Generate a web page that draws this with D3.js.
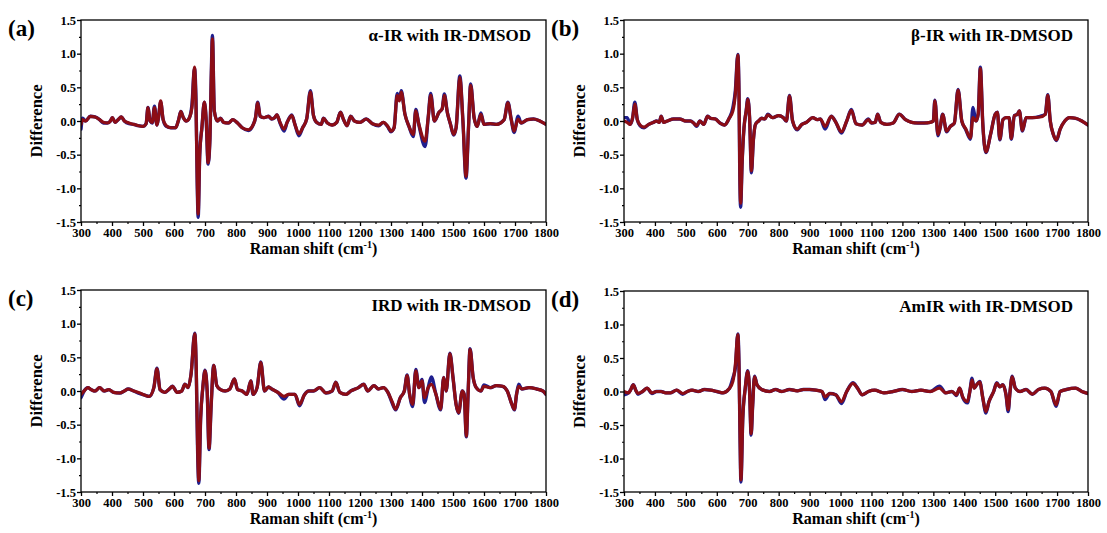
<!DOCTYPE html>
<html>
<head>
<meta charset="utf-8">
<script src="https://cdn.jsdelivr.net/npm/d3@7"></script>
<style>
  html, body { margin: 0; padding: 0; background: #fff; }
  svg { display: block; }
  text { font-family: "Liberation Serif", "Times New Roman", serif; font-weight: bold; fill: #000; }
</style>
</head>
<body>
<svg id="chart" width="1107" height="533"></svg>
<script>
// ---- Raman difference spectra (cm^-1 vs. difference) ----
const xTicks = [300, 400, 500, 600, 700, 800, 900, 1000, 1100, 1200, 1300, 1400, 1500, 1600, 1700, 1800];
const yTicks = [-1.5, -1.0, -0.5, 0.0, 0.5, 1.0, 1.5];
const panelLetters = ["(a)", "(b)", "(c)", "(d)"];
const panelTitles = ["\u03b1-IR with IR-DMSOD", "\u03b2-IR with IR-DMSOD", "IRD with IR-DMSOD", "AmIR with IR-DMSOD"];

// (a) alpha-IR
const shiftA = [
  300,305,315,330,345,360,372,385,395,401,
  410,420,430,440,455,470,485,500,510,516,
  523,530,537,545,550,557,565,575,590,605,
  615,622,630,640,650,658,666,671,675,678,
  683,690,698,704,710,716,720,724,730,740,
  750,760,775,790,805,820,840,855,863,870,
  878,890,905,915,925,932,942,955,965,980,
  990,1003,1015,1028,1040,1050,1060,1075,1082,1095,
  1110,1125,1137,1147,1158,1170,1182,1200,1220,1240,
  1260,1275,1290,1300,1310,1320,1327,1333,1345,1358,
  1372,1380,1390,1410,1420,1428,1440,1455,1465,1472,
  1482,1492,1502,1510,1522,1532,1542,1550,1557,1568,
  1578,1590,1600,1620,1640,1665,1677,1688,1697,1710,
  1720,1740,1760,1780,1800];
const redA = [
  -0.05,0.02,0.00,0.07,0.06,0.02,-0.02,-0.03,0.00,0.05,
  -0.02,0.02,0.06,0.00,-0.03,-0.05,-0.07,-0.08,-0.04,0.20,
  0.00,-0.02,0.20,-0.06,0.05,0.30,0.02,-0.07,-0.10,-0.10,
  0.02,0.14,0.05,0.00,0.05,0.20,0.80,0.20,-0.90,-1.38,
  -0.50,-0.10,0.28,0.00,-0.62,-0.25,0.60,1.22,0.15,0.00,
  0.04,-0.02,-0.03,0.02,-0.03,-0.10,-0.13,-0.06,0.05,0.27,
  0.07,0.05,0.07,0.03,0.05,0.09,-0.02,-0.12,-0.02,0.08,
  -0.05,-0.19,-0.10,0.03,0.43,0.08,-0.02,-0.05,0.04,-0.03,
  -0.06,-0.02,0.13,0.02,-0.07,0.07,0.00,-0.02,0.03,-0.04,
  -0.06,-0.02,-0.08,-0.15,-0.10,0.38,0.30,0.43,0.10,-0.08,
  -0.20,0.15,-0.05,-0.30,0.05,0.38,0.00,0.13,0.18,0.38,
  0.12,-0.05,-0.20,-0.10,0.65,0.00,-0.82,-0.10,0.53,0.05,
  -0.08,0.10,-0.05,-0.04,-0.05,0.02,0.27,0.02,-0.15,0.03,
  -0.03,0.02,0.03,0.00,-0.05];
const blueA = [
  -0.12,0.04,0.00,0.07,0.06,0.02,-0.03,-0.03,0.00,0.05,
  -0.02,0.02,0.06,0.00,-0.04,-0.05,-0.07,-0.08,-0.04,0.20,
  0.00,-0.03,0.22,-0.06,0.05,0.28,0.02,-0.08,-0.10,-0.10,
  0.02,0.14,0.05,0.00,0.05,0.25,0.78,0.32,-0.95,-1.43,
  -0.50,-0.10,0.28,0.00,-0.64,-0.25,0.62,1.27,0.15,0.00,
  0.04,-0.02,-0.03,0.02,-0.03,-0.10,-0.14,-0.06,0.05,0.28,
  0.07,0.05,0.07,0.03,0.05,0.09,-0.03,-0.15,-0.02,0.09,
  -0.05,-0.22,-0.10,0.03,0.45,0.08,-0.02,-0.05,0.04,-0.03,
  -0.06,-0.02,0.13,0.02,-0.07,0.07,0.00,-0.02,0.03,-0.04,
  -0.07,-0.02,-0.09,-0.16,-0.10,0.41,0.32,0.45,0.10,-0.08,
  -0.23,0.17,-0.06,-0.38,0.05,0.41,0.00,0.13,0.18,0.40,
  0.12,-0.05,-0.21,-0.10,0.67,0.00,-0.85,-0.10,0.55,0.05,
  -0.08,0.12,-0.05,-0.04,-0.05,0.02,0.28,0.02,-0.17,0.07,
  -0.03,0.02,0.03,0.00,-0.05];

// (b) beta-IR
const shiftB = [
  300,310,320,328,335,343,352,365,380,395,
  405,414,420,428,440,460,480,500,515,525,
  535,545,558,570,580,595,610,625,640,652,
  660,668,672,674,677,682,688,695,700,706,
  712,718,725,735,745,755,765,780,800,815,
  825,835,845,860,875,890,910,925,935,950,
  970,985,1003,1020,1035,1050,1070,1090,1100,1112,
  1120,1130,1150,1170,1190,1210,1230,1250,1270,1290,
  1300,1305,1315,1322,1330,1343,1355,1368,1380,1392,
  1405,1420,1428,1438,1445,1452,1460,1470,1485,1500,
  1507,1515,1525,1535,1545,1552,1562,1572,1578,1588,
  1600,1620,1645,1662,1670,1678,1688,1698,1710,1725,
  1740,1760,1780,1800];
const redB = [
  0.00,-0.02,-0.05,0.05,0.25,0.02,-0.06,-0.09,-0.05,-0.02,
  0.00,-0.02,0.07,-0.02,0.00,0.03,0.03,0.00,0.00,-0.03,
  -0.07,0.00,-0.05,0.07,0.04,0.03,-0.03,-0.06,0.04,0.15,
  0.40,0.98,0.30,-0.60,-1.22,-0.60,-0.10,0.15,0.32,0.05,
  -0.74,-0.30,-0.05,0.00,0.04,0.03,0.09,0.05,0.08,0.05,
  0.00,0.37,0.00,-0.12,-0.05,-0.02,0.05,0.02,0.03,-0.08,
  0.07,-0.02,-0.16,0.00,0.16,-0.04,-0.06,0.02,-0.03,-0.02,
  0.10,-0.02,-0.05,-0.03,0.10,0.02,-0.02,-0.03,-0.03,-0.02,
  0.00,0.30,-0.20,-0.10,0.10,-0.15,-0.08,-0.03,0.46,0.00,
  -0.12,-0.25,0.05,0.00,0.10,0.78,-0.05,-0.46,-0.20,0.10,
  0.13,-0.27,0.02,0.05,0.05,-0.26,0.08,0.10,0.15,-0.14,
  0.05,0.05,0.06,0.10,0.38,0.00,-0.20,-0.28,-0.12,0.00,
  0.05,0.04,0.00,-0.06];
const blueB = [
  0.05,0.05,-0.05,0.05,0.28,0.02,-0.07,-0.10,-0.05,-0.02,
  0.00,-0.02,0.07,-0.02,0.00,0.03,0.03,0.00,0.00,-0.03,
  -0.08,0.00,-0.05,0.07,0.04,0.03,-0.03,-0.06,0.04,0.20,
  0.45,0.99,0.35,-0.65,-1.28,-0.60,-0.10,0.15,0.33,0.05,
  -0.77,-0.30,-0.05,0.00,0.04,0.03,0.10,0.05,0.08,0.05,
  0.00,0.38,0.00,-0.13,-0.05,-0.02,0.05,0.02,0.03,-0.12,
  0.07,-0.02,-0.18,0.00,0.17,-0.04,-0.06,0.03,-0.03,-0.02,
  0.10,-0.02,-0.05,-0.03,0.10,0.02,-0.02,-0.03,-0.03,-0.02,
  0.00,0.31,-0.22,-0.10,0.10,-0.16,-0.08,-0.03,0.47,0.00,
  -0.13,-0.27,0.20,0.00,0.10,0.80,-0.05,-0.47,-0.20,0.10,
  0.13,-0.28,0.02,0.05,0.05,-0.27,0.08,0.10,0.15,-0.15,
  0.05,0.05,0.07,0.10,0.39,0.00,-0.20,-0.29,-0.12,0.00,
  0.05,0.04,0.00,-0.06];

// (c) IRD
const shiftC = [
  300,310,322,333,345,360,375,390,405,425,
  440,452,470,490,505,520,535,545,555,570,
  585,595,610,625,635,645,655,667,672,676,
  680,686,693,700,707,713,720,728,738,750,
  765,780,795,805,820,835,848,855,868,880,
  892,905,915,935,955,970,990,1005,1020,1035,
  1050,1070,1090,1110,1122,1135,1155,1170,1195,1212,
  1225,1245,1260,1275,1290,1303,1315,1330,1343,1352,
  1360,1370,1380,1390,1400,1408,1420,1430,1445,1460,
  1470,1478,1490,1500,1510,1518,1530,1536,1543,1549,
  1555,1565,1575,1590,1600,1620,1640,1660,1675,1690,
  1698,1705,1712,1722,1745,1770,1790,1800];
const redC = [
  -0.05,0.00,0.05,0.02,0.00,0.05,0.00,0.02,-0.02,-0.03,
  0.00,0.03,0.00,-0.03,-0.06,-0.08,0.05,0.33,0.02,-0.02,
  0.03,0.07,-0.02,0.00,0.10,0.05,0.25,0.85,0.30,-0.80,
  -1.33,-0.40,0.05,0.30,0.00,-0.85,-0.20,0.38,0.08,0.02,
  0.00,0.03,0.18,0.02,0.00,-0.05,0.15,-0.05,0.05,0.42,
  0.00,0.06,0.03,-0.02,-0.08,-0.05,-0.05,-0.20,-0.06,0.00,
  0.00,0.05,-0.03,0.00,0.13,-0.02,-0.05,0.00,0.05,0.10,
  0.00,0.08,0.03,0.05,-0.02,-0.15,-0.27,-0.10,0.00,0.23,
  -0.05,-0.20,0.30,0.05,0.15,-0.10,0.05,0.10,-0.05,-0.27,
  0.20,0.00,0.55,0.20,-0.20,-0.32,0.00,-0.05,-0.67,0.00,
  0.62,0.20,0.05,0.00,0.07,0.05,0.08,0.07,0.00,-0.20,
  -0.27,-0.05,0.07,0.03,0.05,0.03,0.00,-0.05];
const blueC = [
  -0.10,0.00,0.05,0.02,0.00,0.05,0.00,0.02,-0.02,-0.03,
  0.00,0.03,0.00,-0.04,-0.06,-0.08,0.05,0.34,0.02,-0.02,
  0.03,0.07,-0.02,0.00,0.10,0.05,0.25,0.86,0.25,-0.85,
  -1.37,-0.40,0.05,0.31,0.00,-0.87,-0.20,0.38,0.08,0.02,
  0.00,0.03,0.18,0.02,0.00,-0.05,0.15,-0.05,0.05,0.43,
  0.00,0.06,0.03,-0.02,-0.12,-0.05,-0.05,-0.22,-0.06,0.00,
  0.00,0.05,-0.03,0.00,0.13,-0.02,-0.05,0.00,0.05,0.10,
  0.00,0.08,0.03,0.05,-0.02,-0.17,-0.28,-0.10,0.00,0.24,
  -0.05,-0.23,0.32,0.05,0.17,-0.17,0.05,0.21,-0.05,-0.28,
  0.20,0.00,0.56,0.20,-0.20,-0.33,0.00,-0.05,-0.68,0.00,
  0.63,0.20,0.05,0.00,0.09,0.05,0.08,0.07,0.00,-0.20,
  -0.28,-0.05,0.10,0.03,0.05,0.03,0.00,-0.05];

// (d) AmIR
const shiftD = [
  300,315,322,330,338,345,360,375,390,405,
  420,435,450,470,490,505,520,540,560,580,
  600,620,640,652,660,668,672,675,678,684,
  692,700,706,711,716,722,730,745,770,790,
  810,835,860,880,900,920,940,950,965,985,
  1003,1020,1040,1055,1070,1090,1110,1140,1170,1200,
  1230,1260,1290,1320,1340,1360,1375,1385,1395,1410,
  1418,1425,1432,1440,1450,1460,1470,1480,1495,1505,
  1515,1525,1535,1542,1548,1555,1565,1580,1600,1620,
  1640,1660,1680,1697,1710,1730,1760,1780,1800];
const redD = [
  0.00,-0.02,0.03,0.10,0.02,-0.03,0.00,0.05,-0.02,0.00,
  0.00,-0.02,-0.02,0.02,-0.03,0.00,0.02,0.00,0.03,0.02,
  0.00,-0.02,0.04,0.15,0.40,0.85,0.30,-0.60,-1.32,-0.40,
  0.05,0.30,0.00,-0.63,-0.20,0.22,0.10,0.03,0.00,0.03,
  0.00,0.03,0.01,0.03,0.03,0.02,0.00,-0.08,-0.03,-0.05,
  -0.15,0.00,0.12,0.05,-0.05,0.00,0.02,-0.02,0.00,0.03,
  0.00,0.02,0.00,0.05,-0.02,0.00,-0.05,0.05,-0.08,-0.15,
  0.00,0.17,0.05,0.10,0.14,-0.10,-0.30,-0.15,0.00,0.12,
  0.07,0.10,-0.05,-0.27,0.00,0.22,0.05,0.00,0.03,-0.04,
  0.03,0.05,0.00,-0.20,0.00,0.03,0.05,0.00,-0.03];
const blueD = [
  -0.05,-0.02,0.03,0.10,0.02,-0.04,0.00,0.05,-0.03,0.00,
  0.00,-0.02,-0.02,0.02,-0.04,0.00,0.02,0.00,0.03,0.02,
  0.00,-0.02,0.04,0.20,0.35,0.86,0.35,-0.65,-1.35,-0.40,
  0.05,0.31,0.00,-0.65,-0.20,0.23,0.10,0.03,0.00,0.03,
  0.00,0.03,0.01,0.03,0.03,0.02,0.00,-0.12,-0.03,-0.05,
  -0.18,0.00,0.13,0.05,-0.05,0.00,0.02,-0.02,0.00,0.03,
  0.00,0.02,0.00,0.08,-0.02,0.00,-0.06,0.05,-0.09,-0.17,
  0.00,0.20,0.05,0.10,0.15,-0.10,-0.32,-0.15,0.00,0.13,
  0.07,0.10,-0.05,-0.30,0.00,0.23,0.05,0.00,0.03,-0.04,
  0.03,0.05,0.00,-0.22,0.00,0.03,0.05,0.00,-0.03];

const panels = [
  { shift: shiftA, red: redA, blue: blueA, x0: 81,  x1: 546,  y0: 20,  y1: 222 },
  { shift: shiftB, red: redB, blue: blueB, x0: 624, x1: 1088, y0: 20,  y1: 222 },
  { shift: shiftC, red: redC, blue: blueC, x0: 81,  x1: 546,  y0: 290, y1: 492 },
  { shift: shiftD, red: redD, blue: blueD, x0: 624, x1: 1088, y0: 291, y1: 492 }
];

panels.forEach((p, i) => {
  if (p.shift.length !== p.red.length || p.shift.length !== p.blue.length) {
    throw new Error("length mismatch in panel " + panelLetters[i] + ": " +
      p.shift.length + " / " + p.red.length + " / " + p.blue.length);
  }
});

const svg = d3.select("#chart");
const defs = svg.append("defs");

const xMinor = d3.range(350, 1800, 100);
const yMinor = [-1.25, -0.75, -0.25, 0.25, 0.75, 1.25];

panels.forEach((p, i) => {
  const x = d3.scaleLinear().domain([300, 1800]).range([p.x0, p.x1]);
  const y = d3.scaleLinear().domain([-1.5, 1.5]).range([p.y1, p.y0]);
  const g = svg.append("g");

  const clipId = "clip" + i;
  defs.append("clipPath").attr("id", clipId)
    .append("rect").attr("x", p.x0).attr("y", p.y0)
    .attr("width", p.x1 - p.x0).attr("height", p.y1 - p.y0);

  // spectra: blue underneath, dark red on top
  const line = d3.line()
    .x(d => x(d[0])).y(d => y(d[1]))
    .curve(d3.curveMonotoneX);
  const plot = g.append("g").attr("clip-path", `url(#${clipId})`);
  plot.append("path")
    .datum(p.shift.map((s, k) => [s, p.blue[k]]))
    .attr("d", line).attr("fill", "none")
    .attr("stroke", "#1f1f8f").attr("stroke-width", 3.4)
    .attr("stroke-linejoin", "round").attr("stroke-linecap", "round");
  plot.append("path")
    .datum(p.shift.map((s, k) => [s, p.red[k]]))
    .attr("d", line).attr("fill", "none")
    .attr("stroke", "#8c0d16").attr("stroke-width", 3.2)
    .attr("stroke-linejoin", "round").attr("stroke-linecap", "round");

  // frame
  g.append("rect").attr("x", p.x0).attr("y", p.y0)
    .attr("width", p.x1 - p.x0).attr("height", p.y1 - p.y0)
    .attr("fill", "none").attr("stroke", "#000").attr("stroke-width", 1.3);

  // x axis
  const xAxis = g.append("g").attr("transform", `translate(0,${p.y1})`)
    .call(d3.axisBottom(x).tickValues(xTicks).tickFormat(d3.format("d")).tickSize(4).tickPadding(2));
  xAxis.select(".domain").remove();
  xAxis.selectAll("text").attr("font-size", 12.5).attr("font-family", null);
  xAxis.selectAll("line").attr("stroke-width", 1.3);
  g.append("g").attr("transform", `translate(0,${p.y1})`)
    .call(d3.axisBottom(x).tickValues(xMinor).tickFormat("").tickSize(2))
    .call(a => a.select(".domain").remove())
    .selectAll("line").attr("stroke-width", 1.2);

  // y axis
  const yAxis = g.append("g").attr("transform", `translate(${p.x0},0)`)
    .call(d3.axisLeft(y).tickValues(yTicks).tickFormat(d3.format(".1f")).tickSize(4).tickPadding(1));
  yAxis.select(".domain").remove();
  yAxis.selectAll("text").attr("font-size", 12.5).attr("font-family", null)
    .text(d => d3.format(".1f")(d).replace("\u2212", "-"));
  yAxis.selectAll("line").attr("stroke-width", 1.3);
  g.append("g").attr("transform", `translate(${p.x0},0)`)
    .call(d3.axisLeft(y).tickValues(yMinor).tickFormat("").tickSize(2))
    .call(a => a.select(".domain").remove())
    .selectAll("line").attr("stroke-width", 1.2);

  // axis titles
  const xt = g.append("text")
    .attr("x", (p.x0 + p.x1) / 2).attr("y", p.y1 + 32)
    .attr("text-anchor", "middle").attr("font-size", 16);
  xt.append("tspan").text("Raman shift (cm");
  xt.append("tspan").attr("font-size", 10).attr("dy", -6).text("-1");
  xt.append("tspan").attr("dy", 6).text(")");

  g.append("text")
    .attr("transform", `translate(${p.x0 - 39},${(p.y0 + p.y1) / 2}) rotate(-90)`)
    .attr("text-anchor", "middle").attr("font-size", 16.5)
    .text("Difference");

  // panel title and letter
  g.append("text")
    .attr("x", p.x1 - 15).attr("y", p.y0 + 21)
    .attr("text-anchor", "end").attr("font-size", 17)
    .text(panelTitles[i]);
  g.append("text")
    .attr("x", p.x0 - 73).attr("y", p.y0 + 16)
    .attr("font-size", 23)
    .text(panelLetters[i]);
});
</script>
</body>
</html>
